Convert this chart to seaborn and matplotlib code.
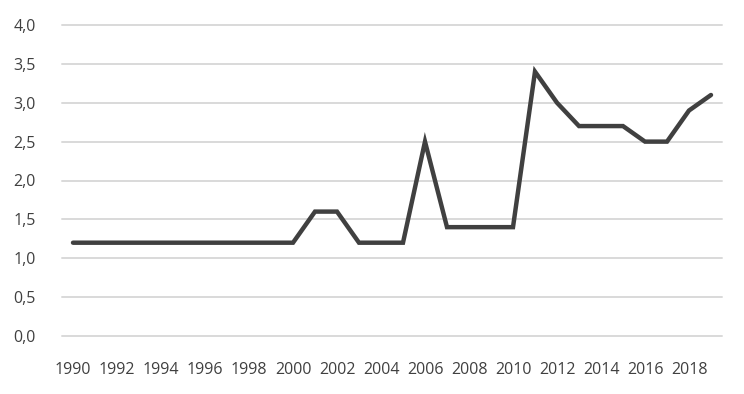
import matplotlib
matplotlib.use("Agg")
import matplotlib.pyplot as plt
import seaborn as sns
import pandas as pd

years = list(range(1990, 2020))
values = [1.2, 1.2, 1.2, 1.2, 1.2, 1.2, 1.2, 1.2, 1.2, 1.2, 1.2,
          1.6, 1.6, 1.2, 1.2, 1.2, 2.5, 1.4, 1.4, 1.4, 1.4,
          3.4, 3.0, 2.7, 2.7, 2.7, 2.5, 2.5, 2.9, 3.1]
y_ticks = [0.0, 0.5, 1.0, 1.5, 2.0, 2.5, 3.0, 3.5, 4.0]
x_tick_years = list(range(1990, 2020, 2))

df = pd.DataFrame({"year": years, "value": values})

sns.set_theme(style="white")
plt.rcParams['font.family'] = ['Open Sans', 'DejaVu Sans']

fig = plt.figure(figsize=(7.44, 3.94), dpi=100)
ax = fig.add_axes([62/744, 1-336/394, 660/744, (336-25)/394])

sns.lineplot(data=df, x="year", y="value", ax=ax, color="#404040",
             linewidth=3.2, solid_joinstyle="miter", solid_capstyle="round")

ax.set_xlim(1989.5, 2019.5)
ax.set_ylim(0, 4)
ax.set_yticks(y_ticks)
ax.set_yticklabels([f"{v:.1f}".replace(".", ",") for v in y_ticks])
ax.set_xticks(x_tick_years)
ax.set_xticklabels([str(y) for y in x_tick_years])
for yv in y_ticks:
    ax.axhline(yv, color="#d9d9d9", linewidth=1.4, zorder=0, clip_on=False)
ax.grid(False)
for s in ax.spines.values():
    s.set_visible(False)
ax.tick_params(axis="y", length=0, pad=19, labelsize=11.5, labelcolor="#404040")
ax.tick_params(axis="x", length=0, pad=19, labelsize=11.5, labelcolor="#404040")
ax.set_xlabel("")
ax.set_ylabel("")

fig.savefig("out.png", dpi=100, facecolor="white")
